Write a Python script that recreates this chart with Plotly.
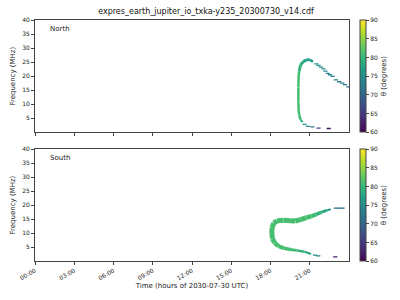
import plotly.graph_objects as go
from plotly.subplots import make_subplots
from plotly.colors import sample_colorscale

# ---------------- data ----------------
title_text = "expres_earth_jupiter_io_txka-y235_20300730_v14.cdf"
hemispheres = ["North", "South"]
x_tick_vals = [0, 3, 6, 9, 12, 15, 18, 21]
x_tick_text = ["00:00", "03:00", "06:00", "09:00", "12:00", "15:00", "18:00", "21:00"]
y_tick_vals = [5, 10, 15, 20, 25, 30, 35, 40]
cb_tick_vals = [60, 65, 70, 75, 80, 85, 90]
theta_min, theta_max = 60, 90

# North arc (hours of day, MHz, degrees)
n_arc_t = [20.45, 20.3, 20.2, 20.15, 20.13, 20.13, 20.15, 20.2, 20.3, 20.5, 20.75, 21.0, 21.25]
n_arc_f = [3.6, 4.5, 6.0, 8.0, 11.0, 16.0, 20.0, 22.0, 24.0, 25.2, 25.8, 25.8, 25.2]
n_arc_th = [78, 80, 81, 81, 81, 81, 81, 80, 79, 78, 77, 76.5, 76]
# North sparse points
n_dot_t = [21.5, 21.67, 21.87, 22.05, 22.2, 22.37, 22.55, 22.75, 23.0, 23.25, 23.48, 23.7, 23.95,
           20.6, 20.85, 21.2, 21.67, 22.45]
n_dot_f = [24.4, 23.8, 23.2, 22.6, 21.8, 21.0, 20.5, 19.9, 18.7, 18.0, 17.5, 17.0, 16.2,
           2.8, 2.1, 1.9, 1.5, 1.35]
n_dot_th = [75, 75, 74.5, 74.5, 74, 74, 73.5, 73, 73, 72.5, 72, 72, 71.5,
            76, 74, 71, 67, 62]

# South arc
s_arc_t = [21.1, 20.6, 20.0, 19.5, 19.0, 18.6, 18.3, 18.15, 18.1, 18.12, 18.25, 18.5, 19.0,
           19.5, 19.9, 20.3, 20.7, 21.1, 21.5, 21.9, 22.3, 22.6]
s_arc_f = [2.5, 3.3, 3.8, 4.1, 4.6, 5.3, 6.6, 8.0, 10.0, 12.0, 13.5, 14.4, 14.6,
           14.4, 14.3, 14.8, 15.4, 16.0, 16.7, 17.5, 18.1, 18.5]
s_arc_th = [77, 79, 80, 81, 81, 81, 81, 81, 81, 81, 81, 81, 81,
            81, 81, 81, 81, 81, 80, 79, 77, 76]
# South sparse points
s_dot_t = [21.4, 21.65, 22.95, 23.0, 23.25, 23.5]
s_dot_f = [2.1, 1.8, 1.45, 18.9, 18.9, 18.9]
s_dot_th = [75, 72, 62, 71, 71, 70]

# ---------------- styles ----------------
FONT = "DejaVu Sans"
n_widths = [2, 2.5, 2.5, 2.5, 2.5, 2.5, 2.5, 3, 3, 3, 3, 2.5]
s_widths = [2, 2.5, 3, 3.5, 4, 4.5, 5, 5, 5, 5, 5, 5, 5, 5, 5, 5, 4.5, 4, 3.5, 3, 2]


def col(th):
    return sample_colorscale("Viridis", [(th - theta_min) / (theta_max - theta_min)])[0]


fig = make_subplots(rows=2, cols=1, shared_xaxes=True, vertical_spacing=0.07)

arcs = [(n_arc_t, n_arc_f, n_arc_th, n_dot_t, n_dot_f, n_dot_th, n_widths),
        (s_arc_t, s_arc_f, s_arc_th, s_dot_t, s_dot_f, s_dot_th, s_widths)]

for row, (at, af, ath, dt, df, dth, widths) in enumerate(arcs, start=1):
    seg_cols = [col((ath[i] + ath[i + 1]) / 2) for i in range(len(at) - 1)]
    for i in range(len(seg_cols)):
        fig.add_trace(go.Scatter(x=at[i:i + 2], y=af[i:i + 2], mode="lines",
                                 line=dict(color=seg_cols[i], width=widths[i]),
                                 hoverinfo="skip", showlegend=False), row=row, col=1)
    fig.add_trace(go.Scatter(x=dt, y=df, mode="markers",
                             marker=dict(symbol="line-ew", size=3,
                                         line=dict(color=[col(v) for v in dth], width=1.3)),
                             hoverinfo="skip", showlegend=False), row=row, col=1)
    # colourbar carrier
    yc = 0.767 if row == 1 else 0.232
    fig.add_trace(go.Scatter(x=[None], y=[None], mode="markers",
                             marker=dict(color=[theta_min], cmin=theta_min, cmax=theta_max,
                                         colorscale="Viridis", showscale=True,
                                         colorbar=dict(x=1.0345, xanchor="left", xpad=0, ypad=0,
                                                       y=yc, yanchor="middle", len=0.466,
                                                       lenmode="fraction", thickness=6,
                                                       outlinewidth=1, outlinecolor="#444",
                                                       tickvals=cb_tick_vals, ticks="outside",
                                                       ticklen=3, tickcolor="#444",
                                                       tickfont=dict(size=6, family=FONT, color="#222"),
                                                       title=dict(text="θ (degrees)", side="right",
                                                                  font=dict(size=7, family=FONT, color="#222")))),
                             hoverinfo="skip", showlegend=False), row=row, col=1)
    fig.add_annotation(text=hemispheres[row - 1], xref="x domain", yref="y domain",
                       x=0.04, y=0.92, xanchor="left", yanchor="middle", showarrow=False,
                       font=dict(size=7, family=FONT, color="#222"), row=row, col=1)

axis_common = dict(showline=True, linecolor="#444", linewidth=1, mirror=True,
                   ticks="outside", ticklen=3, tickcolor="#444", showgrid=False, zeroline=False,
                   tickfont=dict(size=6, family=FONT, color="#222"))
for row in (1, 2):
    fig.update_xaxes(range=[0, 24], tickvals=x_tick_vals, ticktext=x_tick_text,
                     tickangle=-30, showticklabels=(row == 2), row=row, col=1, **axis_common)
    fig.update_yaxes(range=[0, 40], tickvals=y_tick_vals,
                     title=dict(text="Frequency (MHz)", font=dict(size=7, family=FONT, color="#222"),
                                standoff=5),
                     row=row, col=1, **axis_common)
fig.update_xaxes(title=dict(text="Time (hours of 2030-07-30 UTC)",
                            font=dict(size=7, family=FONT, color="#222"), standoff=2), row=2, col=1)

fig.update_layout(width=400, height=300, margin=dict(l=31, r=50, t=20, b=37.5),
                  plot_bgcolor="white", paper_bgcolor="white",
                  title=dict(text=title_text, x=(31 + 175) / 400, xanchor="center",
                             y=1 - 11 / 300, yanchor="middle",
                             font=dict(size=8, family=FONT, color="#111")))
fig.layout.yaxis.domain = [0.534, 1]
fig.layout.yaxis2.domain = [0, 0.464]

fig.write_html("out.html")
